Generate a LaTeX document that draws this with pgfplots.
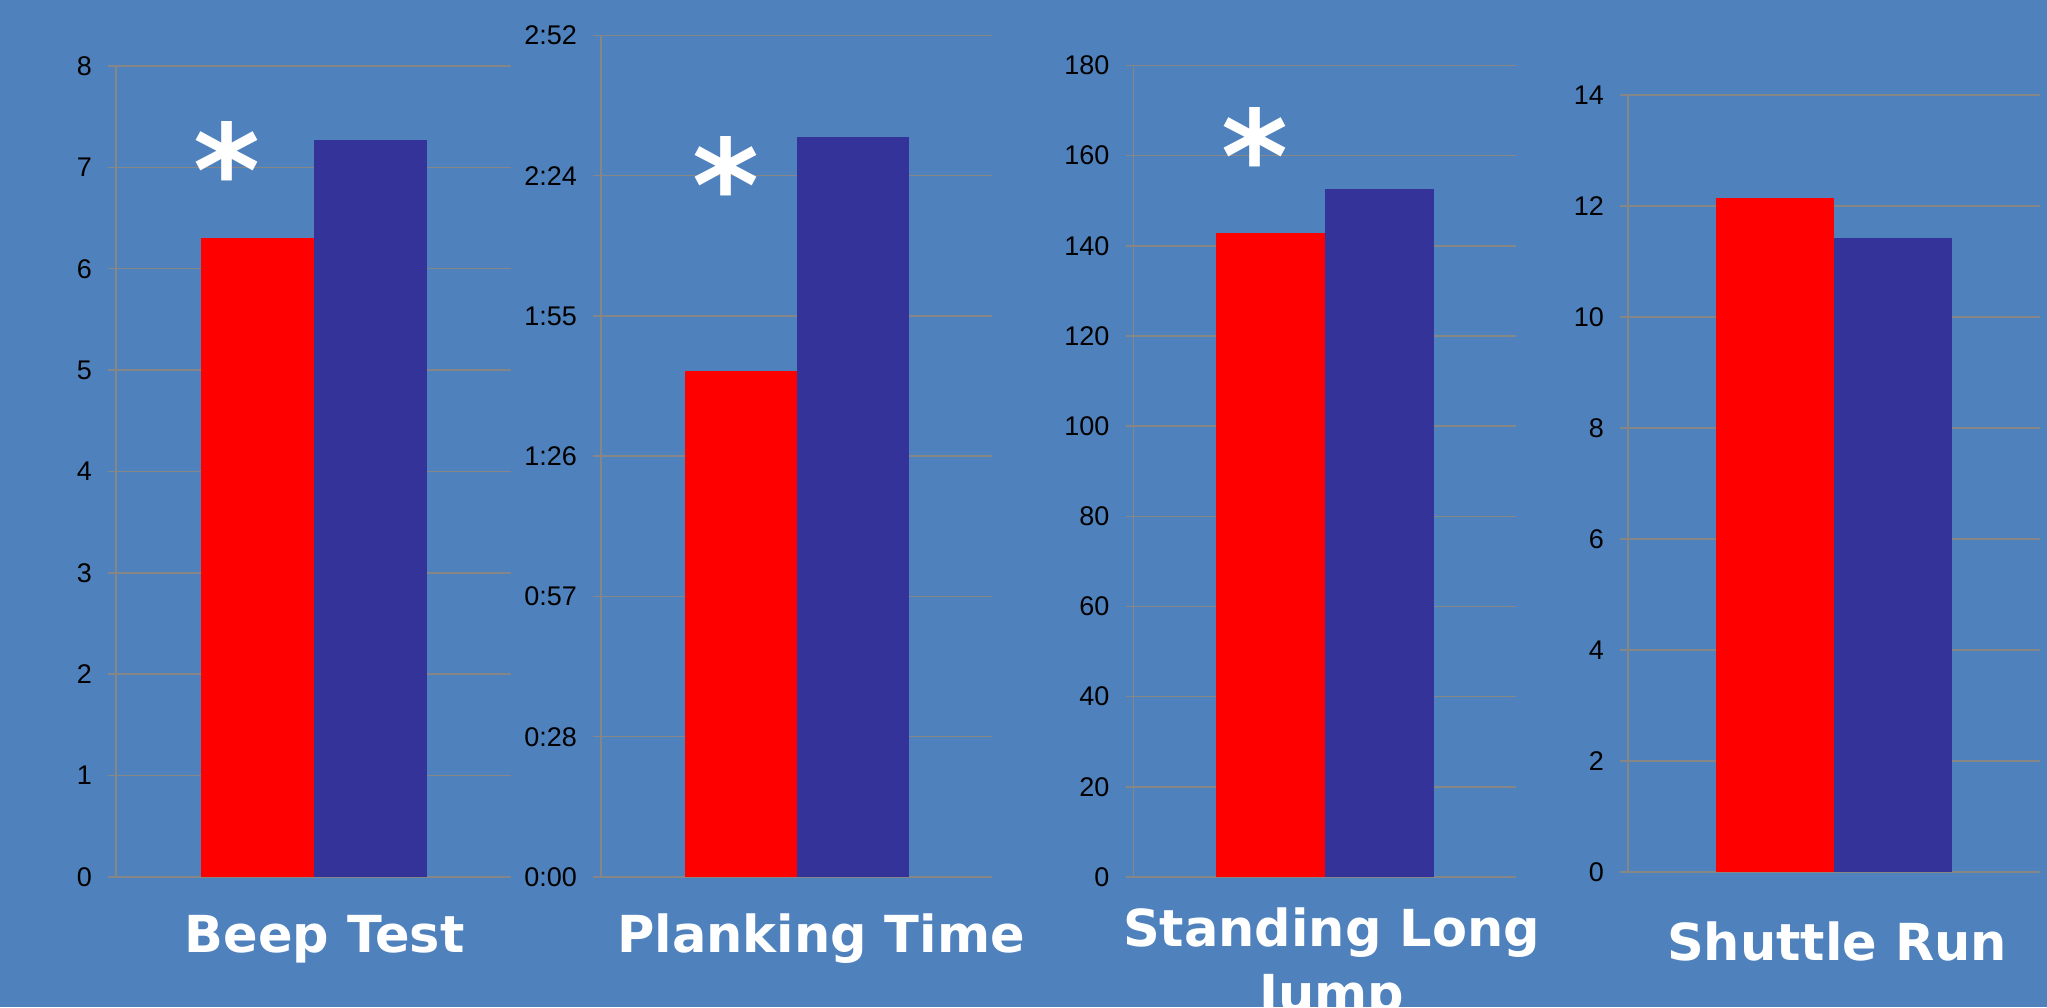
\documentclass[border=0pt]{standalone}
\usepackage{fontspec}
\setmainfont{Liberation Sans}
\newfontfamily\titlefont{DejaVu Sans}
\usepackage{pgfplots}
\pgfplotsset{compat=1.18}
\definecolor{bg}{HTML}{4F81BD}
\definecolor{barblue}{HTML}{333399}
\definecolor{gridgray}{HTML}{868686}
\pgfplotsset{
  panel/.style={
    scale only axis, anchor=south west,
    xmin=-1, xmax=1, ymin=0,
    axis x line=bottom, axis y line=left,
    axis line style={draw=gridgray, line width=1.5pt, -},
    xtick=\empty,
    ymajorgrids, grid style={draw=gridgray, line width=1.5pt},
    major tick style={draw=gridgray, line width=1.5pt},
    tick align=center, major tick length=16pt,
    yticklabel style={font=\fontsize{27}{27}\selectfont, text=black, inner sep=0pt, anchor=east, xshift=-16pt},
    /pgf/number format/assume math mode=true,
    ybar=0pt,
    clip=false,
  },
  redbar/.style={fill=red, draw=none},
  bluebar/.style={fill=barblue, draw=none},
}
\tikzset{
  ttl/.style={anchor=base, text=white, inner sep=0pt, font=\titlefont\bfseries\fontsize{51}{51}\selectfont},
  star/.style={anchor=north, text=white, inner sep=0pt, font=\titlefont\bfseries\fontsize{128}{128}\selectfont},
}
\begin{document}
\begin{tikzpicture}
\useasboundingbox (0,0) rectangle (2047pt,1007pt);
\fill[bg] (0,0) rectangle (2047pt,1007pt);

% Beep Test
\begin{axis}[panel, at={(116pt,130pt)}, width=395pt, height=811pt,
  ymax=8, ytick={0,1,...,8}, bar width=113pt]
  \addplot[redbar] coordinates {(0,6.30)};
  \addplot[bluebar] coordinates {(0,7.27)};
\end{axis}

% Planking Time
\begin{axis}[panel, at={(601pt,130pt)}, width=391pt, height=841.7pt,
  ymax=172, ytick={0,28.6667,57.3333,86,114.6667,143.3333,172},
  yticklabels={0:00,0:28,0:57,1:26,1:55,2:24,2:52}, bar width=112pt]
  \addplot[redbar] coordinates {(0,103.5)};
  \addplot[bluebar] coordinates {(0,151.3)};
\end{axis}

% Standing Long Jump
\begin{axis}[panel, at={(1133.6pt,130pt)}, width=382pt, height=811.5pt,
  ymax=180, ytick={0,20,...,180}, bar width=109pt]
  \addplot[redbar] coordinates {(0,142.8)};
  \addplot[bluebar] coordinates {(0,152.5)};
\end{axis}

% Shuttle Run
\begin{axis}[panel, at={(1628pt,135pt)}, width=412pt, height=777pt,
  ymax=14, ytick={0,2,...,14}, bar width=118pt]
  \addplot[redbar] coordinates {(0,12.14)};
  \addplot[bluebar] coordinates {(0,11.43)};
\end{axis}

% significance marks
\node[star] at (226.5pt,886pt) {*};
\node[star] at (726pt,870.4pt) {*};
\node[star] at (1255.4pt,900pt) {*};

% titles
\node[ttl] at (324.6pt,54.6pt) {Beep Test};
\node[ttl] at (821pt,55pt) {Planking Time};
\node[ttl] at (1331.5pt,61pt) {Standing Long};
\node[ttl] at (1331.5pt,-4pt) {Jump};
\node[ttl] at (1837pt,47pt) {Shuttle Run};
\end{tikzpicture}
\end{document}
